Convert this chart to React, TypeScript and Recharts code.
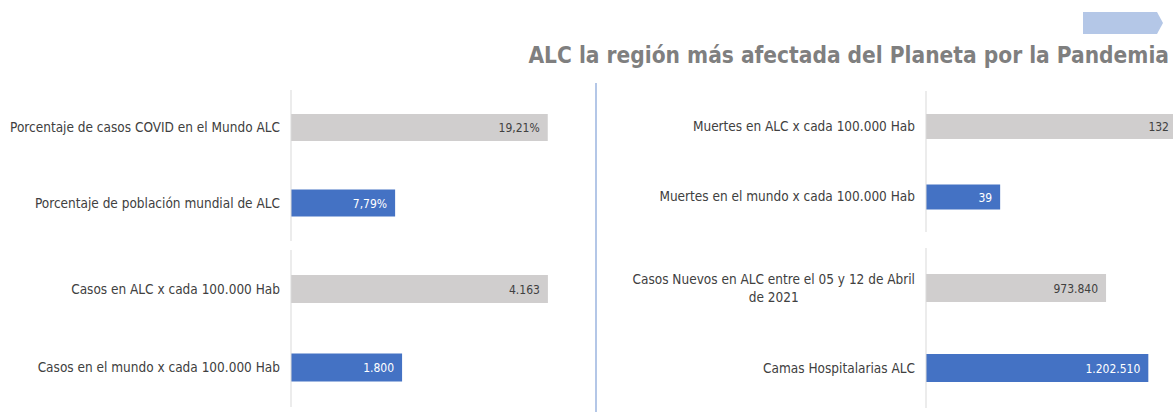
import { Bar, BarChart, Cell, LabelList, XAxis, YAxis } from "recharts";

const title = "ALC la región más afectada del Planeta por la Pandemia";

const pctLabels = ["Porcentaje de casos COVID en el Mundo ALC", "Porcentaje de población mundial de ALC"];
const pctValues = [19.21, 7.79];

const casesLabels = ["Casos en ALC x cada 100.000 Hab", "Casos en el mundo x cada 100.000 Hab"];
const casesValues = [4163, 1800];

const deathLabels = ["Muertes en ALC x cada 100.000 Hab", "Muertes en el mundo x cada 100.000 Hab"];
const deathValues = [132, 39];

const bedsLabels = ["Casos Nuevos en ALC entre el 05 y 12 de Abril\nde 2021", "Camas Hospitalarias ALC"];
const bedsValues = [973840, 1202510];

const GRAY = "#d0cece";
const BLUE = "#4472c4";
const TEXT = "#404040";
const FONT = "'DejaVu Sans Condensed', 'Liberation Sans Narrow', sans-serif";
const LABEL_SIZE = 13.5;

const fmtPct = (v: number) => v.toFixed(2).replace(".", ",") + "%";
const fmtInt = (v: number) => String(Math.round(v)).replace(/\B(?=(\d{3})+(?!\d))/g, ".");

let ctx: CanvasRenderingContext2D | null = null;
function measure(text: string, size: number) {
  if (!ctx) ctx = document.createElement("canvas").getContext("2d");
  if (!ctx) return text.length * size * 0.5;
  ctx.font = `${size}px ${FONT}`;
  return ctx.measureText(text).width;
}

function CategoryTick({ x, y, payload }: any) {
  const lines = String(payload.value).split("\n");
  if (lines.length === 1) {
    return (
      <text x={x} y={y} dy={4.5} textAnchor="end" fill={TEXT} fontSize={LABEL_SIZE} fontFamily={FONT}>
        {lines[0]}
      </text>
    );
  }
  // wrapped label: lines centred on the widest one, like Excel does
  const w = Math.max(...lines.map((l) => measure(l, LABEL_SIZE)));
  const lh = 18;
  return (
    <text x={x - w / 2} y={y} textAnchor="middle" fill={TEXT} fontSize={LABEL_SIZE} fontFamily={FONT}>
      {lines.map((l, i) => (
        <tspan key={i} x={x - w / 2} dy={i === 0 ? 4.5 - ((lines.length - 1) * lh) / 2 : lh}>
          {l}
        </tspan>
      ))}
    </text>
  );
}

function ValueLabel({ x, y, width, height, value, index, fmt }: any) {
  return (
    <text
      x={x + width - 8}
      y={y + height / 2}
      dy={4.5}
      textAnchor="end"
      fill={index === 1 ? "#ffffff" : TEXT}
      fontSize={12}
      fontFamily={FONT}
    >
      {fmt(value)}
    </text>
  );
}

type PanelProps = {
  labels: string[];
  values: number[];
  max: number;
  fmt: (v: number) => string;
  left: number;
  top: number;
  width: number;
  height: number;
  axisWidth: number;
  barSize: number;
};

function Panel({ labels, values, max, fmt, left, top, width, height, axisWidth, barSize }: PanelProps) {
  const data = labels.map((label, i) => ({ label, value: values[i] }));
  return (
    <div style={{ position: "absolute", left, top }}>
      <BarChart
        width={width}
        height={height}
        data={data}
        layout="vertical"
        margin={{ top: 0, right: 0, left: 0, bottom: 0 }}
      >
        <XAxis type="number" hide domain={[0, max]} />
        <YAxis
          type="category"
          dataKey="label"
          width={axisWidth}
          axisLine={{ stroke: "#d9d9d9" }}
          tickLine={false}
          tickSize={0}
          tickMargin={11}
          tick={<CategoryTick />}
          interval={0}
        />
        <Bar dataKey="value" barSize={barSize} isAnimationActive={false}>
          {data.map((_, i) => (
            <Cell key={i} fill={i === 0 ? GRAY : BLUE} />
          ))}
          <LabelList dataKey="value" content={(p: any) => <ValueLabel {...p} fmt={fmt} />} />
        </Bar>
      </BarChart>
    </div>
  );
}

export default function App() {
  return (
    <div
      style={{
        position: "absolute",
        left: 0,
        top: 0,
        width: 1173,
        height: 412,
        overflow: "hidden",
        background: "#ffffff",
        fontFamily: FONT,
      }}
    >
      <svg width={1173} height={412} style={{ position: "absolute", left: 0, top: 0 }}>
        <polygon points="1083,12 1157,12 1163,23 1157,34 1083,34" fill="#b4c7e7" />
        <line x1={596} y1={83} x2={596} y2={412} stroke="#b4c7e7" strokeWidth={2} />
        <text
          x={1169}
          y={63}
          textAnchor="end"
          fill="#7f7f7f"
          fontSize={22.5}
          fontWeight="bold"
          fontFamily={FONT}
        >
          {title}
        </text>
      </svg>
      <Panel labels={pctLabels} values={pctValues} max={20.5} fmt={fmtPct}
        left={0} top={90} width={565} height={151} axisWidth={291} barSize={27} />
      <Panel labels={casesLabels} values={casesValues} max={4440} fmt={fmtInt}
        left={0} top={250} width={565} height={157} axisWidth={291} barSize={28} />
      <Panel labels={deathLabels} values={deathValues} max={142} fmt={fmtInt}
        left={600} top={91} width={596} height={141} axisWidth={326} barSize={25} />
      <Panel labels={bedsLabels} values={bedsValues} max={1336000} fmt={fmtInt}
        left={600} top={248} width={573} height={160} axisWidth={326} barSize={28} />
    </div>
  );
}
